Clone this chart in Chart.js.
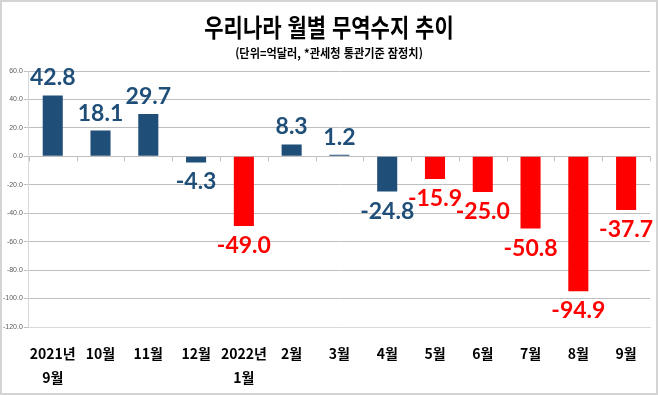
<!DOCTYPE html>
<html lang="ko">
<head>
  <meta charset="UTF-8" />
  <title>우리나라 월별 무역수지 추이</title>
  <script src="https://cdn.jsdelivr.net/npm/chart.js"></script>
  <style>
    * { margin: 0; padding: 0; }
    body { background: #fff; width: 658px; height: 395px; overflow: hidden; }
    .frame {
      position: absolute; left: 0; top: 0; width: 658px; height: 395px;
      border: 2px solid #d4d4d4; box-sizing: border-box;
    }
    .title, .subtitle {
      position: absolute; left: 0; width: 658px; text-align: center;
      font-family: "Noto Sans CJK KR", sans-serif; font-weight: 700; color: #000;
      white-space: nowrap;
    }
    .title { top: 8px; font-size: 25px; transform: scaleX(0.84); }
    .subtitle { top: 44px; font-size: 12px; transform: scaleX(0.93); }
    .wrap { position: absolute; left: 0; top: 0; width: 658px; height: 395px; }
  </style>
</head>
<body>
  <div class="wrap"><canvas id="trade-chart"></canvas></div>
  <div class="frame"></div>
  <div class="title">우리나라 월별 무역수지 추이</div>
  <div class="subtitle">(단위=억달러, *관세청 통관기준 잠정치)</div>

  <script>
    const months = [
      ['2021년', '9월'], '10월', '11월', '12월', ['2022년', '1월'],
      '2월', '3월', '4월', '5월', '6월', '7월', '8월', '9월'
    ];
    const balance = [42.8, 18.1, 29.7, -4.3, -49.0, 8.3, 1.2, -24.8, -15.9, -25.0, -50.8, -94.9, -37.7];
    // red = 2022 deficit months highlighted in the original
    const highlighted = [false, false, false, false, true, false, false, false, true, true, true, true, true];
    const yTicks = { min: -120, max: 60, step: 20 };

    const NAVY = '#1f4e79';
    const RED = '#ff0000';
    const colors = highlighted.map(h => h ? RED : NAVY);

    // value labels above / below each bar
    const valueLabels = {
      id: 'valueLabels',
      afterDatasetsDraw(chart) {
        const ctx = chart.ctx;
        const bars = chart.getDatasetMeta(0).data;
        ctx.save();
        ctx.font = 'bold 23px Lato, "Noto Sans", sans-serif';
        ctx.textAlign = 'center';
        bars.forEach((bar, i) => {
          const v = balance[i];
          ctx.fillStyle = colors[i];
          if (v >= 0) {
            ctx.textBaseline = 'bottom';
            ctx.fillText(v.toFixed(1), bar.x, bar.y - 6);
          } else {
            ctx.textBaseline = 'top';
            ctx.fillText(v.toFixed(1), bar.x, bar.y + 8);
          }
        });
        ctx.restore();
      }
    };

    // small category tick marks hanging from the zero line
    const zeroTicks = {
      id: 'zeroTicks',
      beforeDatasetsDraw(chart) {
        const { ctx, scales: { x, y } } = chart;
        const y0 = y.getPixelForValue(0);
        const w = (x.right - x.left) / months.length;
        ctx.save();
        ctx.strokeStyle = '#bfbfbf';
        ctx.lineWidth = 1;
        ctx.beginPath();
        for (let i = 0; i <= months.length; i++) {
          const px = Math.round(x.left + i * w) + 0.5;
          ctx.moveTo(px, y0);
          ctx.lineTo(px, y0 + 5);
        }
        ctx.stroke();
        ctx.restore();
      }
    };

    new Chart(document.getElementById('trade-chart'), {
      type: 'bar',
      data: {
        labels: months,
        datasets: [{
          data: balance,
          backgroundColor: colors,
          barPercentage: 0.42,
          categoryPercentage: 1
        }]
      },
      options: {
        responsive: true,
        maintainAspectRatio: false,
        animation: false,
        layout: { padding: { top: 71, left: 2, right: 8, bottom: 8 } },
        plugins: { legend: { display: false }, tooltip: { enabled: false } },
        scales: {
          x: {
            grid: { display: false },
            border: { color: '#d9d9d9' },
            afterFit: scale => { scale.height = 60; },
            ticks: {
              color: '#000',
              padding: 6,
              maxRotation: 0,
              autoSkip: false,
              font: { family: '"Noto Sans CJK KR", sans-serif', size: 14, weight: 'bold', lineHeight: 1.75 }
            }
          },
          y: {
            min: yTicks.min,
            max: yTicks.max,
            grid: { color: '#bfbfbf', tickLength: 5 },
            border: { color: '#d9d9d9' },
            ticks: {
              stepSize: yTicks.step,
              padding: 1,
              color: '#595959',
              font: { family: '"Liberation Sans", sans-serif', size: 7 },
              callback: v => v.toFixed(1)
            }
          }
        }
      },
      plugins: [zeroTicks, valueLabels]
    });
  </script>
</body>
</html>
